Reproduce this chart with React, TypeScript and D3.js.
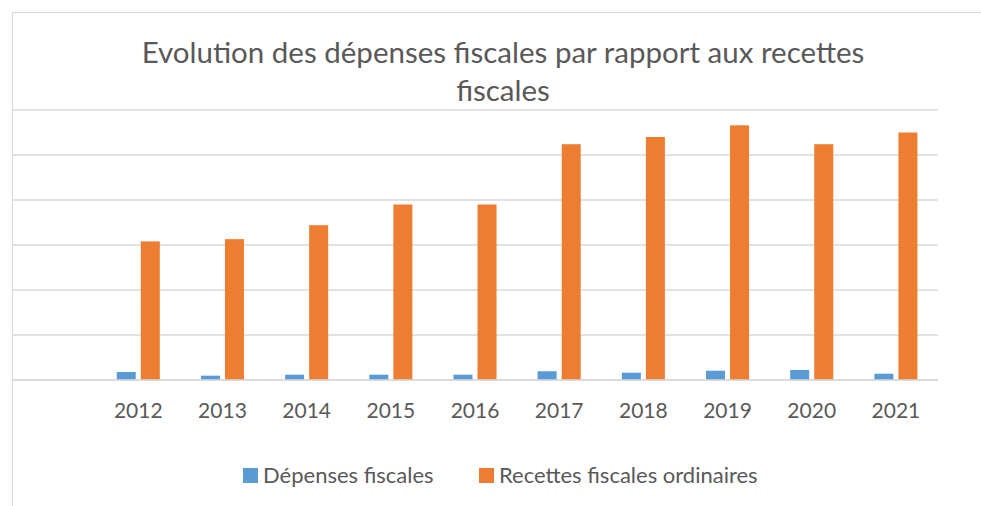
import React, { useEffect, useRef } from 'react';
import * as d3 from 'd3';

// categories (first slot is empty in the original chart)
const years = ['', '2012', '2013', '2014', '2015', '2016', '2017', '2018', '2019', '2020', '2021'];
const seriesNames = ['Dépenses fiscales', 'Recettes fiscales ordinaires'];
const depenses = [null, 890, 480, 590, 590, 590, 970, 810, 1030, 1110, 700];
const recettes = [null, 15400, 15650, 17200, 19500, 19500, 26200, 27000, 28300, 26200, 27500];
const gridTicks = [0, 5000, 10000, 15000, 20000, 25000, 30000];
const titleLines = ['Evolution des dépenses fiscales par rapport aux recettes', 'fiscales'];

const colors = ['#5b9bd5', '#ed7d31'];
const textColor = '#595959';
const font = 'Lato, "Open Sans", sans-serif';

export default function App() {
    const ref = useRef<SVGSVGElement>(null);

    useEffect(() => {
        const svg = d3.select(ref.current);
        svg.selectAll('*').remove();

        const plot = { left: 12, right: 938, top: 110, bottom: 380 };

        // chart frame
        svg.append('rect')
            .attr('x', 12.5).attr('y', 12.5)
            .attr('width', 1000).attr('height', 600)
            .attr('fill', '#fff')
            .attr('stroke', '#d9d9d9')
            .attr('stroke-width', 1.2);

        const x0 = d3.scaleBand().domain(years).range([plot.left, plot.right]).padding(0);
        const x1 = d3.scaleBand().domain(seriesNames).range([0, x0.bandwidth()])
            .paddingInner(0.21).paddingOuter(0.855);
        const y = d3.scaleLinear().domain([0, 30000]).range([plot.bottom, plot.top]);

        // gridlines
        svg.append('g').selectAll('line')
            .data(gridTicks)
            .enter().append('line')
            .attr('x1', plot.left).attr('x2', plot.right)
            .attr('y1', d => y(d)).attr('y2', d => y(d))
            .attr('stroke', '#d9d9d9')
            .attr('stroke-width', 1.5);

        const seriesData = [depenses, recettes];
        seriesData.forEach((vals, si) => {
            svg.append('g').selectAll('rect')
                .data(years.map((yr, i) => ({ yr, v: vals[i] })).filter(d => d.v != null))
                .enter().append('rect')
                .attr('x', d => (x0(d.yr) as number) + (x1(seriesNames[si]) as number))
                .attr('y', d => y(d.v as number))
                .attr('width', x1.bandwidth())
                .attr('height', d => plot.bottom - y(d.v as number))
                .attr('fill', colors[si]);
        });

        // baseline
        svg.append('line')
            .attr('x1', plot.left).attr('x2', plot.right)
            .attr('y1', y(0)).attr('y2', y(0))
            .attr('stroke', '#d9d9d9')
            .attr('stroke-width', 1.5);

        // x axis labels
        const xAxis = d3.axisBottom(x0).tickSize(0).tickPadding(0);
        const gx = svg.append('g')
            .attr('transform', `translate(0,${plot.bottom})`)
            .call(xAxis);
        gx.select('.domain').remove();
        gx.selectAll('text')
            .attr('y', 0)
            .attr('dy', 0)
            .attr('transform', 'translate(0,38)')
            .attr('fill', textColor)
            .attr('font-size', 21)
            .attr('font-family', font);

        // title
        svg.append('text')
            .attr('x', 503)
            .attr('text-anchor', 'middle')
            .attr('fill', textColor)
            .attr('font-size', 29.5)
            .attr('font-family', font)
            .selectAll('tspan')
            .data(titleLines)
            .enter().append('tspan')
            .attr('x', 503)
            .attr('y', (d, i) => 63 + i * 38)
            .text(d => d);

        // legend
        const legendX = [243, 479];
        const legend = svg.append('g');
        seriesNames.forEach((name, i) => {
            legend.append('rect')
                .attr('x', legendX[i]).attr('y', 468)
                .attr('width', 15).attr('height', 15)
                .attr('fill', colors[i]);
            legend.append('text')
                .attr('x', legendX[i] + 20).attr('y', 483)
                .attr('fill', textColor)
                .attr('font-size', 22)
                .attr('font-family', font)
                .text(name);
        });
    }, []);

    return (
        <svg ref={ref} width={981} height={506}
            style={{ position: 'absolute', left: 0, top: 0, background: '#fff' }} />
    );
}
